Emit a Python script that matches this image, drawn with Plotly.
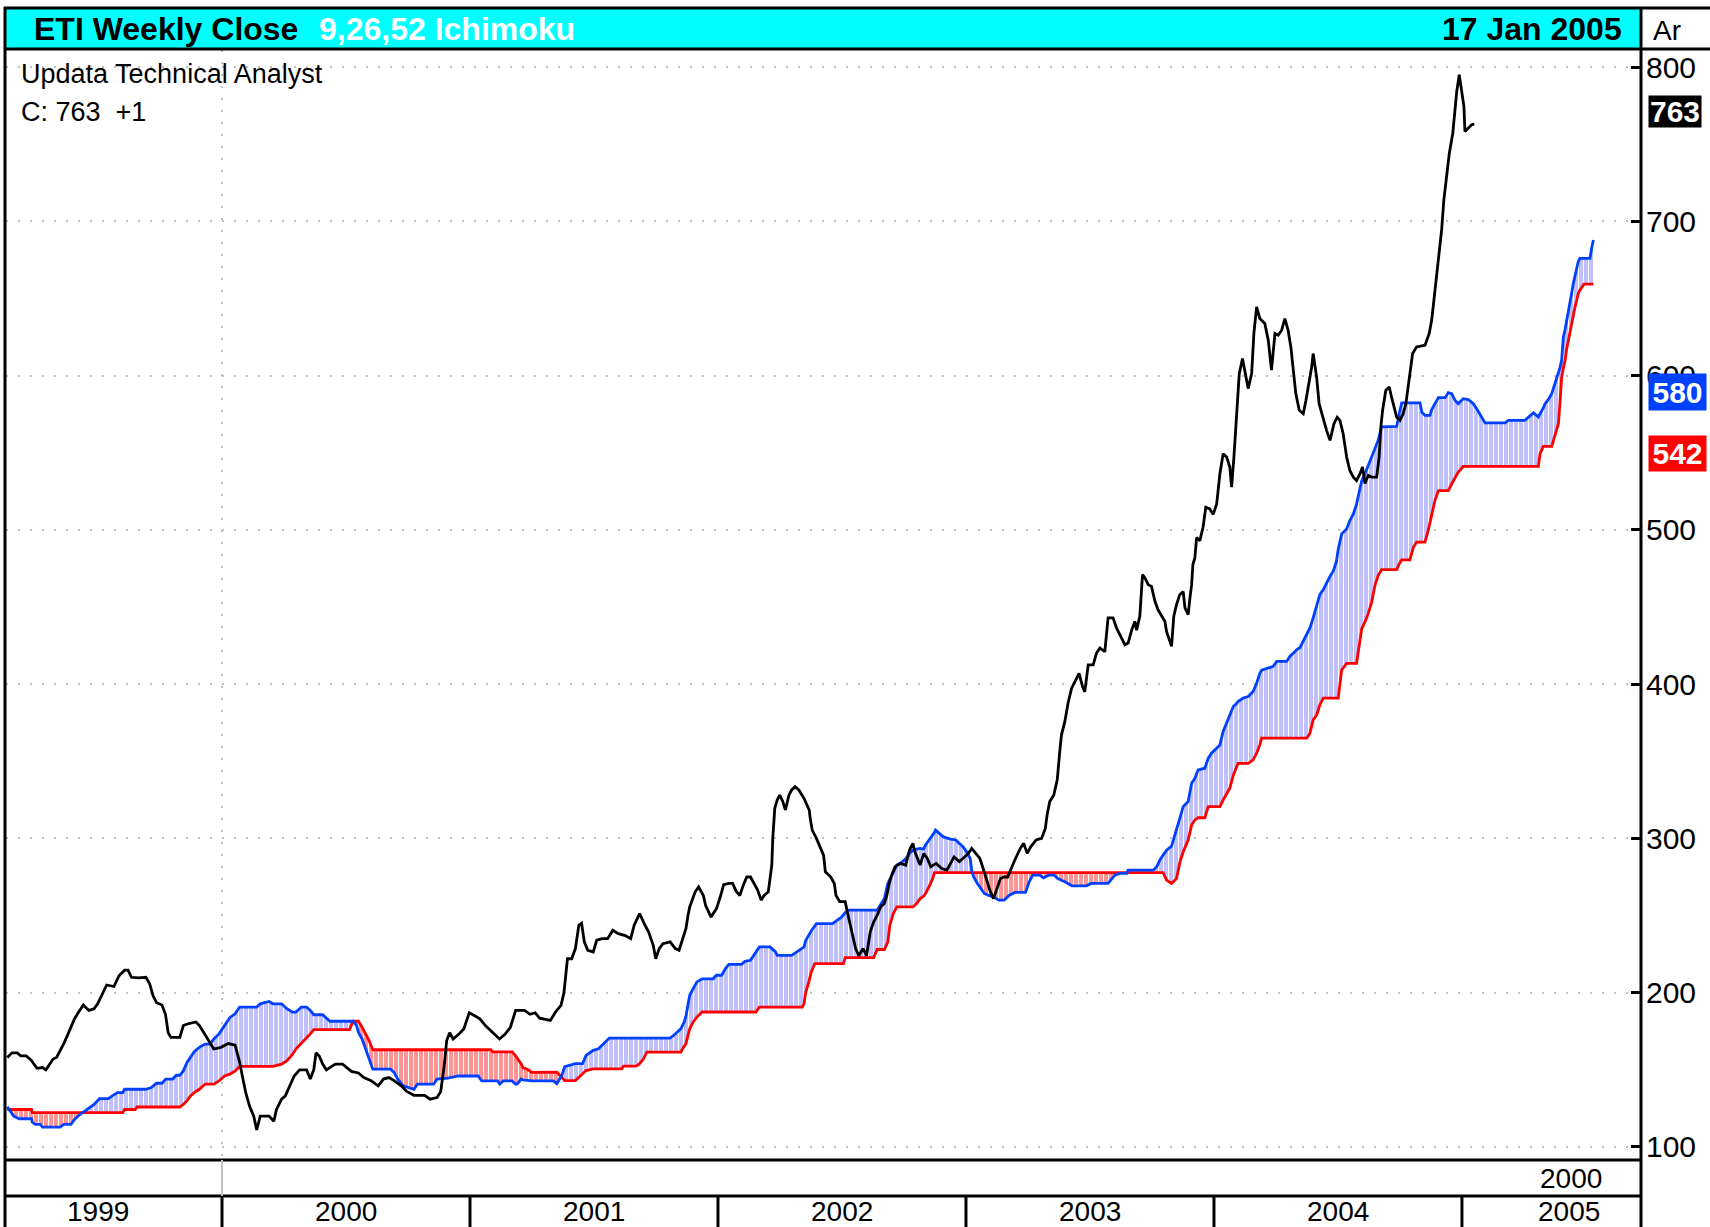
import numpy as np
import plotly.graph_objects as go

# ---------------- data ----------------
# Weekly close, x in decimal years
close_t = [
    1999.134, 1999.153, 1999.175, 1999.189, 1999.211, 1999.232, 1999.254, 1999.276, 1999.290, 1999.319,
    1999.333, 1999.347, 1999.362, 1999.376, 1999.390, 1999.405, 1999.420, 1999.441, 1999.463, 1999.484,
    1999.499, 1999.513, 1999.535, 1999.564, 1999.585, 1999.607, 1999.621, 1999.635, 1999.664, 1999.693,
    1999.708, 1999.722, 1999.736, 1999.758, 1999.772, 1999.783, 1999.794, 1999.830, 1999.844, 1999.866,
    1999.895, 1999.909, 1999.931, 1999.952, 1999.967, 1999.996, 2000.025, 2000.053, 2000.061, 2000.071,
    2000.082, 2000.096, 2000.111, 2000.128, 2000.140, 2000.154, 2000.190, 2000.209, 2000.219, 2000.240,
    2000.255, 2000.272, 2000.291, 2000.313, 2000.341, 2000.356, 2000.370, 2000.379, 2000.392, 2000.406,
    2000.421, 2000.457, 2000.486, 2000.522, 2000.550, 2000.572, 2000.601, 2000.630, 2000.651, 2000.673,
    2000.694, 2000.723, 2000.745, 2000.774, 2000.817, 2000.839, 2000.867, 2000.882, 2000.896, 2000.906,
    2000.918, 2000.932, 2000.954, 2000.975, 2000.997, 2001.019, 2001.040, 2001.062, 2001.084, 2001.098,
    2001.119, 2001.141, 2001.163, 2001.184, 2001.220, 2001.242, 2001.263, 2001.281, 2001.324, 2001.345,
    2001.367, 2001.379, 2001.384, 2001.393, 2001.410, 2001.425, 2001.439, 2001.450, 2001.461, 2001.475,
    2001.497, 2001.511, 2001.533, 2001.555, 2001.576, 2001.598, 2001.626, 2001.648, 2001.662, 2001.684,
    2001.702, 2001.720, 2001.739, 2001.749, 2001.763, 2001.778, 2001.807, 2001.828, 2001.843, 2001.857,
    2001.871, 2001.879, 2001.886, 2001.908, 2001.922, 2001.941, 2001.950, 2001.972, 2001.994, 2002.009,
    2002.023, 2002.044, 2002.059, 2002.073, 2002.088, 2002.102, 2002.116, 2002.131, 2002.145, 2002.160,
    2002.174, 2002.186, 2002.203, 2002.217, 2002.221, 2002.229, 2002.239, 2002.249, 2002.261, 2002.272,
    2002.286, 2002.297, 2002.311, 2002.326, 2002.347, 2002.368, 2002.372, 2002.380, 2002.397, 2002.416,
    2002.426, 2002.433, 2002.455, 2002.469, 2002.476, 2002.491, 2002.513, 2002.523, 2002.541, 2002.555,
    2002.568, 2002.585, 2002.599, 2002.614, 2002.628, 2002.642, 2002.656, 2002.671, 2002.681, 2002.689,
    2002.700, 2002.714, 2002.736, 2002.757, 2002.772, 2002.786, 2002.794, 2002.806, 2002.815, 2002.830,
    2002.844, 2002.858, 2002.880, 2002.902, 2002.923, 2002.952, 2002.973, 2002.988, 2003.010, 2003.023,
    2003.038, 2003.056, 2003.067, 2003.082, 2003.096, 2003.111, 2003.124, 2003.139, 2003.154, 2003.168,
    2003.197, 2003.219, 2003.233, 2003.247, 2003.261, 2003.283, 2003.305, 2003.320, 2003.327, 2003.338,
    2003.354, 2003.368, 2003.378, 2003.385, 2003.399, 2003.412, 2003.426, 2003.439, 2003.456, 2003.470,
    2003.479, 2003.493, 2003.513, 2003.526, 2003.540, 2003.560, 2003.567, 2003.573, 2003.593, 2003.607,
    2003.627, 2003.641, 2003.654, 2003.668, 2003.681, 2003.688, 2003.701, 2003.708, 2003.712, 2003.721,
    2003.735, 2003.748, 2003.762, 2003.775, 2003.789, 2003.802, 2003.809, 2003.822, 2003.829, 2003.838,
    2003.849, 2003.862, 2003.876, 2003.883, 2003.896, 2003.903, 2003.910, 2003.915, 2003.923, 2003.930,
    2003.943, 2003.956, 2003.967, 2003.983, 2003.997, 2004.011, 2004.024, 2004.037, 2004.051, 2004.064,
    2004.071, 2004.080, 2004.091, 2004.102, 2004.115, 2004.125, 2004.138, 2004.152, 2004.161, 2004.172,
    2004.185, 2004.205, 2004.219, 2004.232, 2004.246, 2004.259, 2004.273, 2004.286, 2004.299, 2004.310,
    2004.320, 2004.330, 2004.344, 2004.360, 2004.371, 2004.380, 2004.394, 2004.400, 2004.414, 2004.424,
    2004.438, 2004.454, 2004.468, 2004.484, 2004.497, 2004.508, 2004.521, 2004.535, 2004.548, 2004.562,
    2004.575, 2004.589, 2004.599, 2004.609, 2004.622, 2004.636, 2004.656, 2004.666, 2004.673, 2004.680,
    2004.693, 2004.707, 2004.716, 2004.726, 2004.737, 2004.750, 2004.763, 2004.774, 2004.783, 2004.790,
    2004.801, 2004.817, 2004.851, 2004.868, 2004.878, 2004.887, 2004.898, 2004.909, 2004.918, 2004.927,
    2004.938, 2004.949, 2004.963, 2004.972, 2004.979, 2004.989, 2004.999, 2005.008, 2005.012, 2005.025,
    2005.039, 2005.050,
]
close_v = [
    158, 161, 161, 159, 159, 156, 151, 151.5, 150, 157,
    158, 162, 167, 172, 177.6, 183, 187, 192, 188.5, 189.6,
    193, 198, 205, 204, 211, 214.6, 214.6, 210, 209.6, 210,
    206, 198, 193.5, 192, 186, 174, 171, 171, 178.7, 180,
    181, 178.7, 173, 167, 163.5, 164.6, 167, 166, 161, 155,
    146, 135, 126.5, 120, 111, 120, 120, 116.7, 124, 131,
    133, 139.6, 146, 150, 150, 144, 150, 161, 159, 153.7,
    150, 153.7, 153.7, 149, 148, 145, 143, 139.6, 144, 145,
    143, 139.6, 136, 133.5, 133.5, 131, 132, 136, 152.6, 169,
    174, 170, 173, 176.5, 187, 185, 183, 178.7, 175.4, 173,
    170, 173, 177.6, 188.5, 188.5, 186, 187, 183.5, 182, 187.5,
    191.8, 200, 209, 222, 222, 228.6, 243.7, 245, 233, 227.5,
    226.4, 234, 235, 235, 240.5, 238.3, 237, 235, 243.7, 251.3,
    245, 239.4, 230.7, 222, 228.6, 231.8, 233, 228.6, 227.5, 235,
    241.6, 250, 255.6, 265.4, 268.6, 263, 256.7, 249, 254.5, 262,
    270, 270.8, 270.8, 265.8, 263, 269.7, 275, 275, 270.8, 266.5,
    260, 263, 265.4, 282.7, 300, 319.5, 325, 328, 324, 318.4,
    328, 331.4, 333.5, 331.4, 326, 318.4, 313, 305.4, 300, 293.5,
    289, 278.4, 275, 270.8, 263, 259, 259, 251.3, 238.3, 228.6,
    224, 228.6, 224, 239.4, 246, 250.2, 255.6, 257.8, 263, 269.7,
    276, 281.6, 283.8, 282.7, 292.4, 296.8, 291.3, 287, 282.7, 290.3,
    287, 281.6, 283.8, 280.5, 279.4, 288, 285, 287, 290.3, 293.5,
    290.3, 287, 281.6, 274, 266.5, 261, 266.5, 274, 275, 275,
    286, 293.5, 296.8, 290.3, 294.6, 299, 300, 306.5, 315, 324,
    328, 338, 356, 367, 376, 388, 397.4, 401.7, 407, 398.5,
    395, 412.5, 412.5, 420, 423.4, 421, 432, 443, 443, 436.4,
    430, 425.5, 426.6, 435, 440.7, 435, 444, 462, 471, 469,
    464.5, 463.4, 453.7, 448, 444, 440.7, 434, 427.7, 424.5, 444,
    451.5, 458, 460, 449.4, 445, 455.8, 464.5, 477.5, 481.8, 495,
    493, 501.7, 514.7, 513.6, 510, 516.9, 536.4, 549.4, 547.2, 540.7,
    527.7, 546, 577.5, 601.3, 611, 603.5, 591.6, 601.3, 627.3, 644.6,
    637, 633.8, 623, 603.5, 627.3, 626.2, 629.4, 637, 629.4, 618.6,
    601.3, 588.3, 577.5, 575.3, 584, 592.6, 605.6, 614.3, 599, 581.8,
    573, 564.5, 558, 568.8, 573, 571, 562.3, 547.2, 538.5, 534.2,
    532, 536.4, 540.7, 530, 535.3, 534.2, 534.2, 547.2, 566.7, 577.5,
    590.5, 592.6, 586, 579.7, 573, 571, 575.3, 582, 592.6, 603.5,
    614.3, 618.6, 619.7, 627.3, 636, 649, 664, 679.2, 694.4, 713.9,
    731.2, 744, 757.1, 772.3, 784.2, 795, 783.1, 774.5, 758.2, 760.4,
    762.6, 763,
]

# Ichimoku cloud: leading span A (blue) and span B (red), same x grid
span_t = [
    1999.134, 1999.160, 1999.182, 1999.232, 1999.235, 1999.247, 1999.268, 1999.276, 1999.347, 1999.362,
    1999.391, 1999.405, 1999.427, 1999.441, 1999.463, 1999.484, 1999.506, 1999.542, 1999.556, 1999.578,
    1999.600, 1999.607, 1999.650, 1999.657, 1999.693, 1999.715, 1999.736, 1999.758, 1999.773, 1999.801,
    1999.816, 1999.830, 1999.844, 1999.859, 1999.873, 1999.888, 1999.909, 1999.931, 1999.952, 1999.967,
    1999.988, 2000.010, 2000.032, 2000.053, 2000.071, 2000.140, 2000.154, 2000.190, 2000.205, 2000.240,
    2000.262, 2000.284, 2000.298, 2000.320, 2000.341, 2000.356, 2000.370, 2000.406, 2000.421, 2000.435,
    2000.514, 2000.529, 2000.543, 2000.550, 2000.565, 2000.579, 2000.593, 2000.608, 2000.680, 2000.694,
    2000.709, 2000.731, 2000.774, 2000.788, 2000.853, 2000.867, 2000.911, 2000.954, 2001.033, 2001.047,
    2001.084, 2001.091, 2001.112, 2001.120, 2001.134, 2001.170, 2001.184, 2001.192, 2001.206, 2001.213,
    2001.235, 2001.249, 2001.336,
    2001.350, 2001.370, 2001.382, 2001.425, 2001.439, 2001.454, 2001.468, 2001.497, 2001.518, 2001.540,
    2001.562, 2001.612, 2001.619, 2001.670, 2001.684, 2001.699, 2001.713, 2001.807, 2001.821, 2001.836,
    2001.850, 2001.857, 2001.864, 2001.871, 2001.879, 2001.886, 2001.900, 2001.915, 2001.936, 2001.980,
    2001.994, 2002.015, 2002.030, 2002.044, 2002.095, 2002.109, 2002.131, 2002.145, 2002.153, 2002.167,
    2002.210, 2002.232, 2002.239, 2002.297, 2002.318, 2002.340, 2002.347, 2002.354, 2002.368, 2002.376,
    2002.383, 2002.390, 2002.397, 2002.462, 2002.477, 2002.498, 2002.506, 2002.513, 2002.527, 2002.628,
    2002.642, 2002.650, 2002.671, 2002.685, 2002.693, 2002.700, 2002.707, 2002.721, 2002.743, 2002.758,
    2002.772, 2002.786, 2002.801, 2002.815, 2002.829, 2002.837, 2002.851, 2002.866, 2002.873, 2002.877,
    2002.894, 2002.909, 2002.938, 2002.959, 2002.973, 2002.988, 2003.003, 2003.017, 2003.024, 2003.031,
    2003.046, 2003.060, 2003.074, 2003.089, 2003.111, 2003.132, 2003.154, 2003.175, 2003.197, 2003.240,
    2003.255, 2003.269, 2003.298, 2003.312, 2003.334, 2003.356, 2003.370, 2003.399, 2003.427, 2003.485,
    2003.506, 2003.573, 2003.587, 2003.600, 2003.621, 2003.648, 2003.654, 2003.755, 2003.769, 2003.782,
    2003.795, 2003.809, 2003.829, 2003.849, 2003.863, 2003.876, 2003.896, 2003.910, 2003.923, 2003.936,
    2003.963, 2003.977, 2003.990, 2004.004, 2004.024, 2004.037, 2004.051, 2004.064, 2004.078, 2004.091,
    2004.097, 2004.118, 2004.138, 2004.158, 2004.172, 2004.185, 2004.192, 2004.239, 2004.253, 2004.293,
    2004.306, 2004.320, 2004.333, 2004.347, 2004.360, 2004.374, 2004.387, 2004.400, 2004.414, 2004.427,
    2004.441, 2004.454, 2004.468, 2004.481, 2004.494,
    2004.501, 2004.508, 2004.515, 2004.535, 2004.548, 2004.562, 2004.575, 2004.582, 2004.596, 2004.609,
    2004.622, 2004.636, 2004.649, 2004.662, 2004.676, 2004.737, 2004.747, 2004.757, 2004.790, 2004.804,
    2004.817, 2004.831, 2004.838, 2004.851, 2004.864, 2004.871, 2004.878, 2004.891, 2004.905, 2004.932,
    2004.945, 2004.959, 2004.972, 2004.985, 2005.005, 2005.026, 2005.046, 2005.063, 2005.080, 2005.093,
    2005.174, 2005.187, 2005.254, 2005.268, 2005.288, 2005.308, 2005.315, 2005.328, 2005.335, 2005.348,
    2005.362, 2005.375, 2005.389, 2005.395, 2005.402, 2005.409, 2005.416, 2005.422, 2005.429, 2005.436,
    2005.443, 2005.449, 2005.456, 2005.463, 2005.469, 2005.476, 2005.483, 2005.492, 2005.516, 2005.523,
    2005.530,
]
span_a = [
    126.0, 120.0, 118.3, 118.3, 116.0, 114.6, 114.6, 112.8, 112.8, 114.6,
    114.6, 117.8, 121.0, 122.5, 124.8, 127.6, 131.3, 131.3, 133.0, 135.2,
    135.2, 137.4, 137.4, 137.4, 137.4, 138.5, 141.3, 141.3, 144.0, 144.0,
    146.5, 146.5, 149.3, 154.8, 158.0, 161.7, 164.6, 166.7, 166.7, 170.0,
    173.3, 178.7, 184.0, 186.3, 190.7, 190.7, 192.8, 194.3, 192.8, 192.8,
    189.6, 187.4, 187.4, 190.7, 190.7, 188.5, 185.7, 185.7, 183.5, 181.5,
    181.5, 181.5, 178.7, 174.3, 170.0, 163.5, 155.9, 150.4, 150.4, 148.3,
    144.0, 139.6, 137.4, 140.7, 140.7, 144.0, 144.6, 146.0, 146.0, 142.8,
    142.8, 142.8, 142.8, 140.7, 142.8, 142.8, 140.7, 141.0, 144.0, 143.5,
    142.8, 142.8, 142.8,
    141.0, 146.3, 152.0, 154.0, 154.0, 154.0, 159.3, 162.6, 163.6, 167.0,
    170.6, 170.6, 170.6, 170.6, 170.6, 170.6, 170.6, 170.6, 172.3, 174.5,
    176.6, 178.8, 181.0, 185.0, 192.0, 198.3, 202.6, 207.0, 209.0, 209.0,
    211.3, 211.3, 215.6, 218.4, 218.4, 220.3, 221.0, 224.2, 225.8, 229.7,
    229.7, 226.4, 224.2, 224.2, 226.4, 229.0, 229.7, 234.0, 238.3, 240.0,
    241.6, 243.0, 244.8, 244.8, 246.5, 249.0, 250.5, 252.0, 253.5, 253.5,
    253.5, 255.6, 261.0, 270.8, 273.5, 276.2, 278.5, 282.7, 284.8, 287.0,
    290.3, 292.4, 293.0, 293.5, 293.0, 295.7, 299.0, 302.2, 304.0, 305.4,
    303.2, 301.0, 299.6, 299.0, 296.8, 294.6, 291.3, 287.0, 278.4, 275.0,
    270.8, 267.5, 264.3, 263.2, 262.1, 260.0, 260.0, 263.2, 265.0, 265.0,
    271.9, 276.2, 276.2, 274.5, 276.2, 276.2, 274.0, 271.9, 269.3, 269.3,
    270.8, 270.8, 273.6, 276.2, 277.3, 277.3, 279.4, 279.4, 281.6, 286.0,
    289.2, 292.4, 295.0, 306.5, 314.0, 320.6, 324.0, 335.7, 339.0, 344.4,
    345.5, 352.0, 355.2, 357.4, 360.6, 369.3, 374.7, 380.0, 385.5, 387.5,
    388.7, 391.0, 392.0, 395.2, 400.6, 407.0, 409.0, 411.5, 414.7, 414.7,
    418.0, 420.1, 422.3, 423.8, 427.7, 432.0, 436.4, 442.9, 451.5, 458.0,
    461.3, 465.6, 469.9, 473.2, 479.7,
    487.5, 492.0, 497.4, 500.6, 506.0, 510.3, 516.7, 522.0, 531.8, 536.4,
    541.8, 547.2, 552.0, 558.0, 566.7, 567.1, 575.3, 582.3, 582.3, 582.3,
    582.3, 582.3, 576.4, 574.2, 574.2, 574.2, 578.0, 582.0, 585.7, 585.7,
    589.0, 588.3, 584.0, 581.8, 585.0, 584.4, 581.8, 577.5, 573.2, 569.3,
    569.3, 571.0, 571.0, 573.2, 575.8, 573.2, 575.0, 579.0, 581.8, 584.4,
    588.3, 594.8, 601.3, 605.0, 610.0, 625.1, 630.0, 636.0, 642.0, 648.9,
    654.0, 659.7, 665.0, 671.6, 674.0, 676.0, 676.0, 676.0, 676.0, 682.5,
    687.9,
]
span_b = [
    124.3, 124.3, 124.3, 124.3, 122.2, 122.2, 122.2, 122.2, 122.2, 122.2,
    122.2, 122.2, 122.2, 122.2, 122.2, 122.2, 122.2, 122.2, 122.2, 122.2,
    122.2, 124.3, 124.3, 125.9, 125.9, 125.9, 125.9, 125.9, 125.9, 125.9,
    125.9, 125.9, 127.6, 130.0, 133.0, 135.2, 137.4, 140.7, 140.7, 140.7,
    142.8, 146.0, 147.2, 149.3, 152.2, 152.2, 152.2, 152.2, 152.2, 153.7,
    156.0, 160.0, 163.5, 167.2, 170.4, 173.3, 176.0, 176.0, 176.0, 176.0,
    176.0, 181.5, 181.5, 181.5, 177.6, 173.3, 169.0, 163.0, 163.0, 163.0,
    163.0, 163.0, 163.0, 163.0, 163.0, 163.0, 163.0, 163.0, 163.0, 163.0,
    163.0, 161.7, 161.7, 161.7, 161.7, 161.7, 159.0, 157.4, 154.0, 151.5,
    150.0, 148.3, 148.3,
    148.5, 145.2, 143.0, 143.0, 145.2, 147.4, 149.5, 150.6, 150.6, 150.6,
    150.6, 150.6, 152.4, 152.4, 154.0, 157.0, 161.5, 161.5, 161.5, 161.5,
    161.5, 163.6, 165.0, 167.0, 172.3, 176.6, 181.0, 184.2, 187.5, 187.5,
    187.5, 187.5, 187.5, 187.5, 187.5, 187.5, 187.5, 187.5, 187.5, 190.7,
    190.7, 190.7, 190.7, 190.7, 190.7, 190.7, 193.0, 200.4, 208.0, 213.4,
    216.0, 218.8, 218.8, 218.8, 218.8, 218.8, 218.8, 222.7, 222.7, 222.7,
    228.0, 228.0, 228.0, 233.0, 243.7, 247.5, 251.3, 255.6, 255.6, 255.6,
    255.6, 255.6, 257.8, 261.0, 262.5, 264.3, 268.6, 274.0, 277.8, 277.8,
    277.8, 277.8, 277.8, 277.8, 277.8, 277.8, 277.8, 277.8, 277.8, 277.8,
    277.8, 277.8, 277.8, 277.8, 277.8, 277.8, 277.8, 277.8, 277.8, 277.8,
    277.8, 277.8, 277.8, 277.8, 277.8, 277.8, 277.8, 277.8, 277.8, 277.8,
    277.8, 277.8, 277.8, 277.8, 277.8, 277.8, 277.8, 277.8, 277.8, 277.8,
    277.8, 273.0, 270.8, 274.0, 284.8, 291.3, 299.0, 308.7, 312.0, 313.4,
    313.4, 320.6, 320.6, 320.6, 320.6, 324.9, 329.2, 332.5, 341.0, 346.5,
    348.7, 348.7, 348.7, 350.9, 355.2, 360.6, 365.0, 365.0, 365.0, 365.0,
    365.0, 365.0, 365.0, 365.0, 365.0, 365.0, 368.2, 376.8, 380.0, 386.6,
    391.0, 391.0, 391.0, 391.0, 391.0,
    391.0, 400.0, 409.2, 413.5, 413.5, 413.5, 413.5, 421.0, 436.0, 440.3,
    445.7, 453.2, 463.9, 470.4, 474.2, 474.2, 478.0, 480.5, 480.5, 488.7,
    492.0, 492.0, 492.0, 492.0, 499.6, 505.0, 510.4, 519.0, 525.5, 525.5,
    525.5, 529.9, 534.2, 537.4, 541.1, 541.1, 541.1, 541.1, 541.1, 541.1,
    541.1, 541.1, 541.1, 541.1, 541.1, 541.1, 549.4, 554.1, 554.1, 554.1,
    554.1, 561.3, 568.8, 581.8, 599.0, 605.0, 610.0, 617.0, 623.0, 629.0,
    634.8, 640.0, 644.6, 649.0, 653.2, 655.5, 657.6, 659.3, 659.3, 659.3,
    659.3,
]

y_ticks = [100, 200, 300, 400, 500, 600, 700, 800]
year_labels = ["1999", "2000", "2001", "2002", "2003", "2004", "2005"]
year_starts = [2000, 2001, 2002, 2003, 2004, 2005]

last_close = 763
last_change = "+1"
last_span_a = 580
last_span_b = 542

assert len(close_t) == len(close_v)
assert len(span_t) == len(span_a) == len(span_b)

# ---------------- layout geometry (pixels) ----------------
W, H = 1710, 1227
PL, PR, PT, PB = 6, 1641, 49, 1159
FONT = "Liberation Sans, Arial, sans-serif"
BLUE = "#0040ff"
RED = "#ff0000"


def px(x):
    return (x - PL) / (PR - PL)


def py(y):
    return (PB - y) / (PB - PT)


a = np.array(span_a)
b = np.array(span_b)
upper = np.maximum(a, b)

fig = go.Figure()
nol = dict(width=0, color="rgba(0,0,0,0)")

# blue cloud (span A above span B): lavender with thin white vertical gaps
fig.add_trace(go.Scatter(x=span_t, y=b, mode="lines", line=nol, hoverinfo="skip"))
fig.add_trace(go.Scatter(
    x=span_t, y=upper, mode="lines", line=nol, hoverinfo="skip", fill="tonexty",
    fillcolor="#c0c0ff",
    fillpattern=dict(shape="|", fgcolor="#ffffff", bgcolor="#c0c0ff", fgopacity=1,
                     size=5, solidity=0.2)))
# red cloud (span B above span A)
fig.add_trace(go.Scatter(x=span_t, y=a, mode="lines", line=nol, hoverinfo="skip"))
fig.add_trace(go.Scatter(
    x=span_t, y=upper, mode="lines", line=nol, hoverinfo="skip", fill="tonexty",
    fillcolor="#ff9494",
    fillpattern=dict(shape="|", fgcolor="#ffffff", bgcolor="#ff9494", fgopacity=1,
                     size=5, solidity=0.2)))

fig.add_trace(go.Scatter(x=span_t, y=span_b, mode="lines", line=dict(color=RED, width=2.8)))
fig.add_trace(go.Scatter(x=span_t, y=span_a, mode="lines", line=dict(color=BLUE, width=2.8)))
fig.add_trace(go.Scatter(x=close_t, y=close_v, mode="lines", line=dict(color="black", width=2.8)))

shapes = []


def line(x0, y0, x1, y1, color="black", width=3, dash=None, layer="above", xref="paper"):
    d = dict(type="line", xref=xref, yref="paper", x0=x0, x1=x1, y0=y0, y1=y1,
             line=dict(color=color, width=width), layer=layer)
    if dash:
        d["line"]["dash"] = dash
    shapes.append(d)


# header bar
shapes.append(dict(type="rect", xref="paper", yref="paper", x0=px(6), x1=px(1641),
                   y0=py(49), y1=py(9), fillcolor="#00ffff", line=dict(width=0), layer="below"))
line(px(4), py(8), px(1712), py(8))
line(px(4), py(49), px(1712), py(49))
line(px(5), py(7), px(5), py(1230))
line(px(1641), py(7), px(1641), py(1230))
# bottom rows
line(px(5), py(1160), px(1641), py(1160))
line(px(5), py(1196), px(1641), py(1196))
for ys in year_starts:
    line(ys, py(1196), ys, py(1230), xref="x")
# grey 2000 marker in middle row and dotted vertical grid line in plot
line(2000, py(1160), 2000, py(1196), color="#c0c0c0", width=2, xref="x")
line(2000, py(50), 2000, py(1158), color="#c0c0c0", width=2, dash="2px,10px",
     layer="below", xref="x")

annotations = []


def text(x, y, s, size, color="black", bold=False, xanchor="left", xref="paper", **kw):
    if bold:
        s = "<b>" + s + "</b>"
    annotations.append(dict(x=x, y=y, xref=xref, yref="paper", text=s, showarrow=False,
                            xanchor=xanchor, yanchor="middle",
                            font=dict(family=FONT, size=size, color=color), **kw))


text(px(32), py(29), "ETI Weekly Close", 32, bold=True)
text(px(317), py(29), "9,26,52 Ichimoku", 32, color="white", bold=True)
text(px(1624), py(29), "17 Jan 2005", 32, bold=True, xanchor="right")
text(px(1651), py(31), "Ar", 28)
text(px(19), py(74), "Updata Technical Analyst", 27)
text(px(19), py(112), "C: %d&nbsp;&nbsp;%s" % (last_close, last_change), 27)

# year labels
for i, lab in enumerate(year_labels):
    xc = 1999.5 + i if lab != "2005" else 2005.43
    text(xc, py(1211), lab, 28, xanchor="center", xref="x")
text(px(1604), py(1178), "2000", 28, xanchor="right")

# current value boxes on right axis
for val, bg, yc, h in [(last_close, "black", 111.5, 31),
                       (last_span_a, BLUE, 392, 36),
                       (last_span_b, RED, 453.5, 35)]:
    annotations.append(dict(x=px(1648), y=py(yc), xref="paper", yref="paper",
                            text="<b>%d</b>" % val, showarrow=False,
                            xanchor="left", yanchor="middle",
                            width=57 if bg != "black" else 52, height=h,
                            bgcolor=bg, borderpad=0,
                            font=dict(family=FONT, size=30, color="white")))

fig.update_layout(
    width=W, height=H,
    margin=dict(l=PL, r=W - PR, t=PT, b=H - PB, autoexpand=False),
    paper_bgcolor="white", plot_bgcolor="white",
    showlegend=False, hovermode=False,
    xaxis=dict(range=[1999.129, 2005.722], showgrid=False, zeroline=False,
               showticklabels=False, ticks="", showline=False, fixedrange=True),
    yaxis=dict(range=[92.2, 811.7], side="right", tickvals=y_ticks,
               ticks="inside", ticklen=10, tickwidth=3, tickcolor="black",
               showgrid=True, gridcolor="#c0c0c0", gridwidth=2, griddash="2px,10px",
               zeroline=False, showline=False, automargin=False,
               ticklabelstandoff=4,
               tickfont=dict(family=FONT, size=30, color="black"), fixedrange=True),
    shapes=shapes,
    annotations=annotations,
)

fig.write_html(
    "out.html",
    config={"displayModeBar": False},
    post_script="document.body.style.margin='0';document.body.style.overflow='hidden';",
)
